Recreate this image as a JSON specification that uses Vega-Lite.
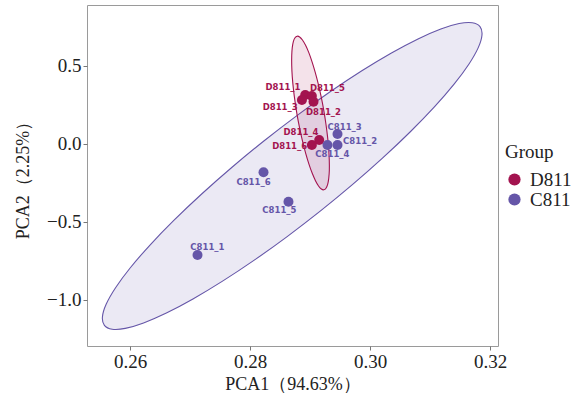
{
  "$schema": "https://vega.github.io/schema/vega-lite/v6.json",
  "width": 411,
  "height": 341,
  "autosize": {"type": "none"},
  "padding": {"left": 87, "top": 5, "right": 79, "bottom": 52},
  "background": "white",
  "config": {
    "view": {"stroke": "#9a9a9a", "strokeWidth": 1},
    "font": "Liberation Serif",
    "axis": {
      "grid": false, "domain": false, "ticks": true, "tickColor": "#777", "tickSize": 4,
      "labelFont": "Liberation Serif", "labelFontSize": 19, "labelColor": "#222", "labelPadding": 2,
      "titleFont": "Liberation Serif", "titleFontSize": 18, "titleFontWeight": "normal", "titleColor": "#222"
    },
    "legend": {
      "titleFont": "Liberation Serif", "titleFontSize": 19, "titleFontWeight": "normal", "titleColor": "#222",
      "labelFont": "Liberation Serif", "labelFontSize": 19, "labelColor": "#222"
    }
  },
  "datasets": {
    "pts": [
      {"group": "D811", "name": "D811_1", "x": 0.28917, "y": 0.3141, "lx": 0.28547, "ly": 0.3635},
      {"group": "D811", "name": "D811_5", "x": 0.29028, "y": 0.3077, "lx": 0.29287, "ly": 0.3609},
      {"group": "D811", "name": "D811_3", "x": 0.28862, "y": 0.2821, "lx": 0.285, "ly": 0.2353},
      {"group": "D811", "name": "D811_2", "x": 0.29055, "y": 0.2712, "lx": 0.29222, "ly": 0.2051},
      {"group": "D811", "name": "D811_4", "x": 0.2915, "y": 0.0256, "lx": 0.28847, "ly": 0.075},
      {"group": "D811", "name": "D811_6", "x": 0.29028, "y": -0.0064, "lx": 0.28658, "ly": -0.0147},
      {"group": "C811", "name": "C811_3", "x": 0.29455, "y": 0.0641, "lx": 0.29575, "ly": 0.1109},
      {"group": "C811", "name": "C811_2", "x": 0.29455, "y": -0.0064, "lx": 0.29833, "ly": 0.0212},
      {"group": "C811", "name": "C811_4", "x": 0.29288, "y": -0.0064, "lx": 0.2937, "ly": -0.0641},
      {"group": "C811", "name": "C811_6", "x": 0.28222, "y": -0.1814, "lx": 0.28055, "ly": -0.2436},
      {"group": "C811", "name": "C811_5", "x": 0.28638, "y": -0.3699, "lx": 0.28487, "ly": -0.4231},
      {"group": "C811", "name": "C811_1", "x": 0.27122, "y": -0.7115, "lx": 0.27287, "ly": -0.6603}
    ],
    "ellC": [
      {"i": 0, "x": 0.3183, "y": 0.7527}, {"i": 1, "x": 0.31863, "y": 0.699}, {"i": 2, "x": 0.31801, "y": 0.6178},
      {"i": 3, "x": 0.31644, "y": 0.5115}, {"i": 4, "x": 0.31398, "y": 0.3835}, {"i": 5, "x": 0.3107, "y": 0.2377},
      {"i": 6, "x": 0.30669, "y": 0.0784}, {"i": 7, "x": 0.30209, "y": -0.0896}, {"i": 8, "x": 0.29703, "y": -0.261},
      {"i": 9, "x": 0.29167, "y": -0.4307}, {"i": 10, "x": 0.28616, "y": -0.5935}, {"i": 11, "x": 0.28068, "y": -0.7446},
      {"i": 12, "x": 0.27539, "y": -0.8793}, {"i": 13, "x": 0.27046, "y": -0.9935}, {"i": 14, "x": 0.26603, "y": -1.0837},
      {"i": 15, "x": 0.26223, "y": -1.1472}, {"i": 16, "x": 0.25918, "y": -1.1821}, {"i": 17, "x": 0.25699, "y": -1.1873},
      {"i": 18, "x": 0.2557, "y": -1.1627}, {"i": 19, "x": 0.25537, "y": -1.109}, {"i": 20, "x": 0.25599, "y": -1.0278},
      {"i": 21, "x": 0.25756, "y": -0.9215}, {"i": 22, "x": 0.26002, "y": -0.7935}, {"i": 23, "x": 0.2633, "y": -0.6477},
      {"i": 24, "x": 0.26731, "y": -0.4884}, {"i": 25, "x": 0.27191, "y": -0.3204}, {"i": 26, "x": 0.27697, "y": -0.149},
      {"i": 27, "x": 0.28233, "y": 0.0207}, {"i": 28, "x": 0.28784, "y": 0.1835}, {"i": 29, "x": 0.29332, "y": 0.3346},
      {"i": 30, "x": 0.29861, "y": 0.4693}, {"i": 31, "x": 0.30354, "y": 0.5835}, {"i": 32, "x": 0.30797, "y": 0.6737},
      {"i": 33, "x": 0.31177, "y": 0.7372}, {"i": 34, "x": 0.31482, "y": 0.7721}, {"i": 35, "x": 0.31701, "y": 0.7773}
    ],
    "ellD": [
      {"i": 0, "x": 0.28782, "y": 0.691}, {"i": 1, "x": 0.28824, "y": 0.6861}, {"i": 2, "x": 0.28871, "y": 0.6664},
      {"i": 3, "x": 0.28923, "y": 0.6325}, {"i": 4, "x": 0.28977, "y": 0.5854}, {"i": 5, "x": 0.29031, "y": 0.5265},
      {"i": 6, "x": 0.29085, "y": 0.4577}, {"i": 7, "x": 0.29137, "y": 0.381}, {"i": 8, "x": 0.29185, "y": 0.2988},
      {"i": 9, "x": 0.29227, "y": 0.2136}, {"i": 10, "x": 0.29262, "y": 0.1279}, {"i": 11, "x": 0.2929, "y": 0.0443},
      {"i": 12, "x": 0.29309, "y": -0.0346}, {"i": 13, "x": 0.29318, "y": -0.1064}, {"i": 14, "x": 0.29319, "y": -0.1688},
      {"i": 15, "x": 0.29309, "y": -0.2202}, {"i": 16, "x": 0.29291, "y": -0.2588}, {"i": 17, "x": 0.29263, "y": -0.2835},
      {"i": 18, "x": 0.29228, "y": -0.2936}, {"i": 19, "x": 0.29186, "y": -0.2887}, {"i": 20, "x": 0.29139, "y": -0.269},
      {"i": 21, "x": 0.29088, "y": -0.2351}, {"i": 22, "x": 0.29034, "y": -0.188}, {"i": 23, "x": 0.28979, "y": -0.1291},
      {"i": 24, "x": 0.28925, "y": -0.0603}, {"i": 25, "x": 0.28873, "y": 0.0164}, {"i": 26, "x": 0.28826, "y": 0.0986},
      {"i": 27, "x": 0.28783, "y": 0.1838}, {"i": 28, "x": 0.28748, "y": 0.2695}, {"i": 29, "x": 0.2872, "y": 0.3531},
      {"i": 30, "x": 0.28701, "y": 0.432}, {"i": 31, "x": 0.28692, "y": 0.5038}, {"i": 32, "x": 0.28692, "y": 0.5662},
      {"i": 33, "x": 0.28701, "y": 0.6176}, {"i": 34, "x": 0.28719, "y": 0.6562}, {"i": 35, "x": 0.28747, "y": 0.6809}
    ]
  },
  "layer": [
    {
      "data": {"name": "ellC"},
      "mark": {"type": "line", "interpolate": "cardinal-closed", "stroke": "#6556A8", "strokeWidth": 1.1, "fill": "#6556A8", "fillOpacity": 0.13, "clip": true},
      "encoding": {
        "x": {"field": "x", "type": "quantitative", "scale": {"domain": [0.2528, 0.3213], "nice": false, "zero": false},
              "axis": {"values": [0.26, 0.28, 0.30, 0.32], "format": ".2f", "title": "PCA1（94.63%）", "titlePadding": 4}},
        "y": {"field": "y", "type": "quantitative", "scale": {"domain": [-1.295, 0.891], "nice": false, "zero": false},
              "axis": {"values": [0.5, 0.0, -0.5, -1.0], "format": ".1f", "title": "PCA2（2.25%）", "titlePadding": 14}},
        "order": {"field": "i", "type": "quantitative"}
      }
    },
    {
      "data": {"name": "ellD"},
      "mark": {"type": "line", "interpolate": "cardinal-closed", "stroke": "#A3134F", "strokeWidth": 1.1, "fill": "#A3134F", "fillOpacity": 0.12},
      "encoding": {
        "x": {"field": "x", "type": "quantitative"},
        "y": {"field": "y", "type": "quantitative"},
        "order": {"field": "i", "type": "quantitative"}
      }
    },
    {
      "data": {"name": "pts"},
      "mark": {"type": "circle", "size": 100, "opacity": 1},
      "encoding": {
        "x": {"field": "x", "type": "quantitative"},
        "y": {"field": "y", "type": "quantitative"},
        "color": {"field": "group", "type": "nominal", "sort": ["D811", "C811"],
                  "scale": {"domain": ["D811", "C811"], "range": ["#A3134F", "#6556A8"]},
                  "legend": {"title": "Group", "orient": "none", "legendX": 418, "legendY": 138, "symbolType": "circle", "symbolSize": 150, "symbolOpacity": 1, "rowPadding": -3, "labelOffset": 6, "titlePadding": 8}}
      }
    },
    {
      "data": {"name": "pts"},
      "mark": {"type": "text", "font": "DejaVu Sans", "fontWeight": "bold", "fontSize": 8.5, "baseline": "middle", "align": "center"},
      "encoding": {
        "x": {"field": "lx", "type": "quantitative"},
        "y": {"field": "ly", "type": "quantitative"},
        "text": {"field": "name", "type": "nominal"},
        "color": {"field": "group", "type": "nominal", "legend": null}
      }
    }
  ]
}
